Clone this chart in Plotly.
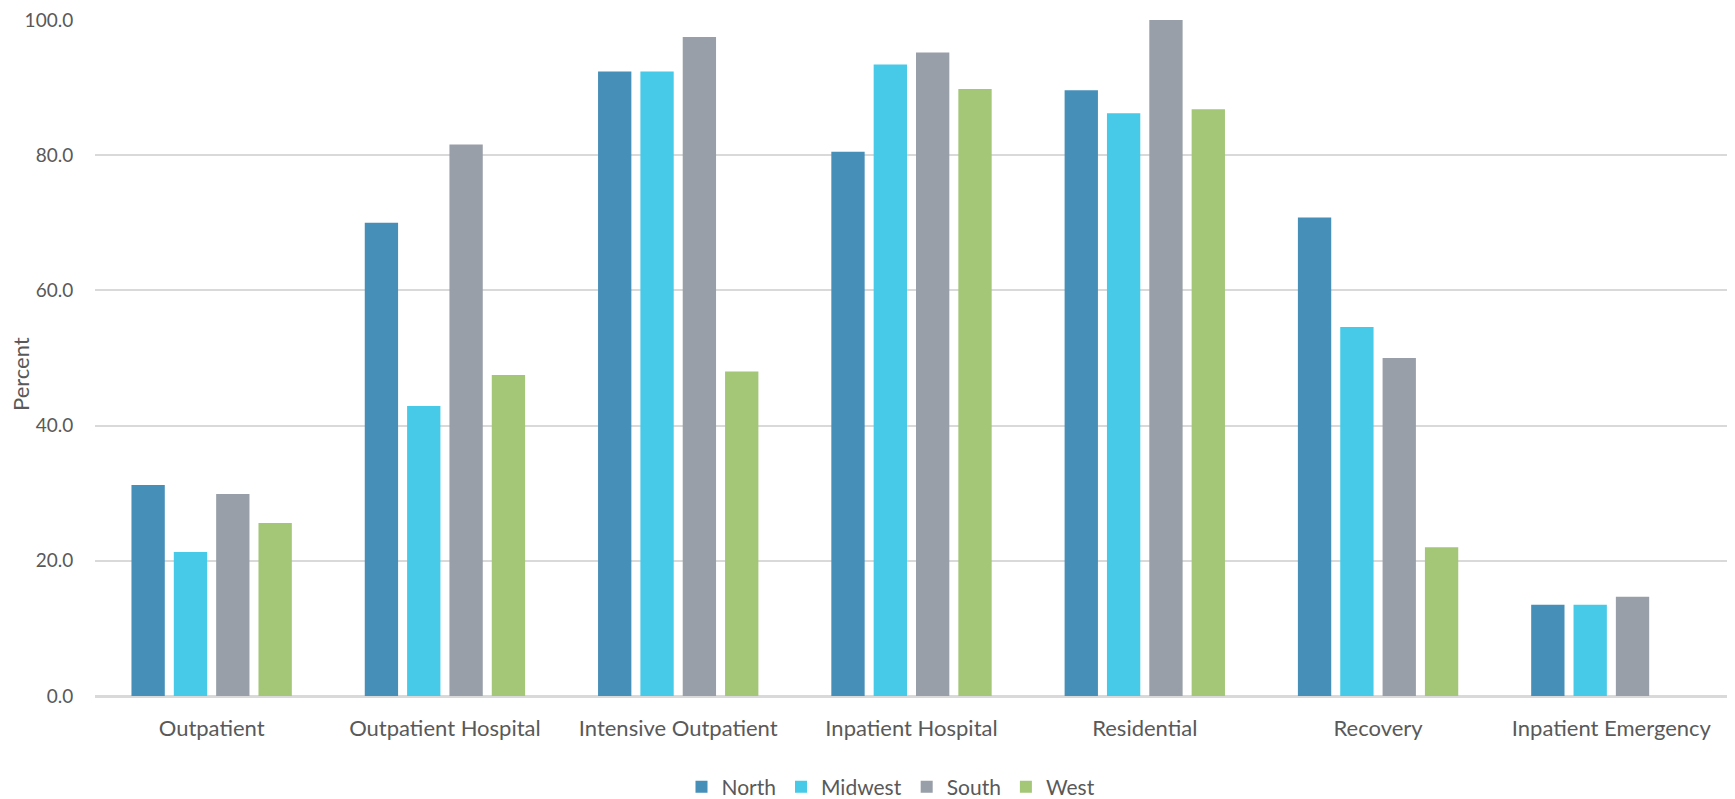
import plotly.graph_objects as go

categories = ["Outpatient", "Outpatient Hospital", "Intensive Outpatient", "Inpatient Hospital",
              "Residential", "Recovery", "Inpatient Emergency"]
north = [31.2, 70.0, 92.4, 80.5, 89.6, 70.8, 13.5]
midwest = [21.3, 42.9, 92.4, 93.4, 86.2, 54.6, 13.5]
south = [29.9, 81.6, 97.5, 95.2, 100.0, 50.0, 14.7]
west = [25.6, 47.5, 48.0, 89.8, 86.8, 22.0, None]
y_ticks = [0, 20, 40, 60, 80, 100]

series_names = ["North", "Midwest", "South", "West"]
series_values = [north, midwest, south, west]
colors = ["#468FB8", "#46CAE7", "#989FA8", "#A3C677"]

FONT = "Lato"
TXT = "#595959"

fig = go.Figure()
for name, vals, col in zip(series_names, series_values, colors):
    fig.add_trace(go.Bar(name=name, x=categories, y=vals, marker_color=col,
                         marker_line_width=0))

W, H = 1735, 799
# page has an 8px body margin; compensate
L, R, T, B = 87, 15, 12, 111
plot_h = H - T - B
plot_w = W - L - R

fig.update_layout(
    width=W, height=H,
    margin=dict(l=L, r=R, t=T, b=B, autoexpand=False),
    paper_bgcolor="white", plot_bgcolor="white",
    barmode="group", bargap=0.274, bargroupgap=0.213,
    font=dict(family=FONT, size=21, color=TXT),
    showlegend=True,
    legend=dict(orientation="h", x=(883 - L) / plot_w, xanchor="center",
                y=-91 / plot_h, yanchor="middle",
                font=dict(family=FONT, size=21, color=TXT), itemwidth=30,
                traceorder="normal"),
)
fig.update_yaxes(range=[0, 100], tickvals=y_ticks, tickformat=".1f",
                 ticklabeloverflow="allow",
                 showgrid=True, gridcolor="#D9D9D9", gridwidth=1.5,
                 zeroline=True, zerolinecolor="#D9D9D9", zerolinewidth=1.5,
                 showline=False, ticks="outside", ticklen=17, tickcolor="rgba(0,0,0,0)",
                 tickfont=dict(family=FONT, size=19, color=TXT))
fig.update_xaxes(showgrid=False, showline=True, linecolor="#D9D9D9", linewidth=1.5,
                 ticks="outside", ticklen=12, tickcolor="rgba(0,0,0,0)",
                 tickfont=dict(family=FONT, size=22, color=TXT))

fig.add_annotation(text="Percent", textangle=-90, xref="paper", yref="paper",
                   x=(12 - L) / plot_w, y=(H - B - 366) / plot_h,
                   xanchor="center", yanchor="middle", showarrow=False,
                   font=dict(family=FONT, size=22, color=TXT))

fig.write_html("out.html")
